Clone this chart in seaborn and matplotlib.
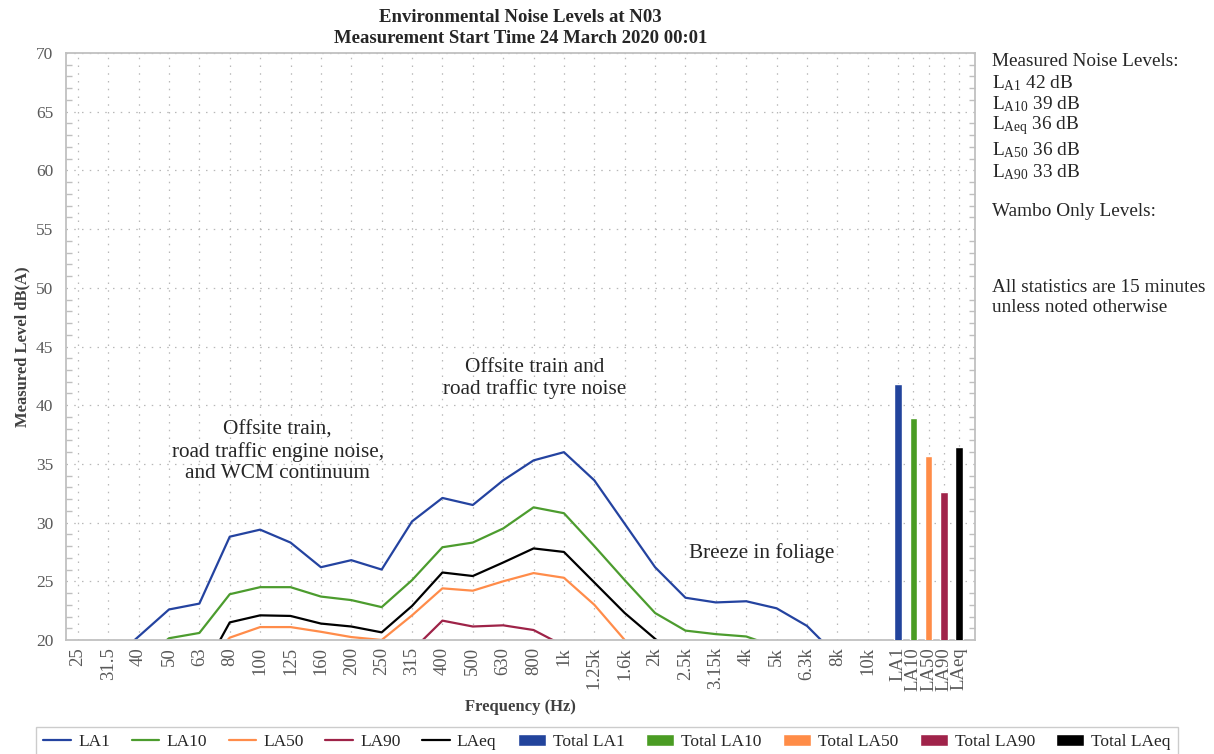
import pandas as pd
import seaborn as sns
import matplotlib.pyplot as plt
from matplotlib.lines import Line2D
from matplotlib.patches import Patch
from matplotlib.ticker import MultipleLocator

# Third-octave band centre frequencies
freq_labels = ["25", "31.5", "40", "50", "63", "80", "100", "125", "160", "200",
               "250", "315", "400", "500", "630", "800", "1k", "1.25k", "1.6k",
               "2k", "2.5k", "3.15k", "4k", "5k", "6.3k", "8k", "10k"]

# Spectra (dB(A)), values below 20 fall off the bottom of the chart
la1 = [16.5, 18.0, 20.3, 22.6, 23.1, 28.8, 29.4, 28.3, 26.2, 26.8, 26.0, 30.1, 32.1, 31.5,
       33.6, 35.3, 36.0, 33.6, 29.9, 26.2, 23.6, 23.2, 23.3, 22.7, 21.2, 18.6, 17.0]
la10 = [14.5, 16.0, 18.0, 20.15, 20.6, 23.9, 24.5, 24.5, 23.7, 23.4, 22.8, 25.1, 27.9, 28.3,
        29.5, 31.3, 30.8, 28.0, 25.1, 22.3, 20.8, 20.5, 20.3, 19.4, 18.0, 16.5, 15.0]
la50 = [13.0, 14.0, 15.0, 16.5, 17.5, 20.2, 21.1, 21.1, 20.7, 20.25, 20.0, 22.1, 24.4, 24.2,
        25.0, 25.7, 25.3, 23.0, 20.0, 17.0, 15.5, 15.0, 14.5, 14.0, 13.5, 13.0, 12.5]
la90 = [11.0, 12.0, 12.5, 13.0, 14.0, 15.5, 16.0, 16.0, 16.0, 16.5, 17.5, 19.1, 21.65, 21.15,
        21.25, 20.85, 19.5, 18.0, 16.0, 14.0, 13.0, 12.5, 12.0, 11.5, 11.0, 10.5, 10.0]
laeq = [14.0, 15.0, 16.0, 16.5, 16.8, 21.5, 22.1, 22.05, 21.4, 21.15, 20.65, 22.9, 25.75, 25.45,
        26.6, 27.8, 27.5, 24.9, 22.3, 20.1, 18.0, 17.5, 17.0, 16.5, 16.0, 15.0, 14.0]

series_names = ["LA1", "LA10", "LA50", "LA90", "LAeq"]
series_vals = [la1, la10, la50, la90, laeq]
line_colors = ["#2443a0", "#4c9c2e", "#ff8c4a", "#9e2348", "#000000"]

# Overall levels
total_names = ["LA1", "LA10", "LA50", "LA90", "LAeq"]
total_vals = [41.8, 38.95, 35.65, 32.6, 36.4]
bar_colors = ["#22449c", "#4a9c23", "#ff8c47", "#a0234a", "#000000"]

freq_pos = list(range(len(freq_labels)))
total_pos = [27, 27.5, 28, 28.5, 29]

rows = []
for name, vals in zip(series_names, series_vals):
    for p, v in zip(freq_pos, vals):
        rows.append({"pos": p, "level": v, "series": name})
df = pd.DataFrame(rows)

sns.set_theme(style="white")
plt.rcParams["font.family"] = ["Liberation Serif", "DejaVu Serif"]
plt.rcParams["mathtext.fontset"] = "custom"
plt.rcParams["mathtext.rm"] = "Liberation Serif"
plt.rcParams["mathtext.it"] = "Liberation Serif:italic"

fig = plt.figure(figsize=(12.14, 7.54), dpi=100)
ax = fig.add_axes([66 / 1214, 1 - 640 / 754, (975 - 66) / 1214, (640 - 53) / 754])

sns.lineplot(data=df, x="pos", y="level", hue="series", palette=dict(zip(series_names, line_colors)),
             linewidth=1.6, ax=ax, legend=False)
ax.bar(total_pos, total_vals, width=0.25, color=bar_colors, zorder=3)

ax.set_xlim(-0.39, 29.53)
ax.set_ylim(20, 70)
ax.set_xticks(freq_pos + total_pos)
ax.set_xticklabels(freq_labels + total_names, rotation=90, fontsize=13.5, color="#595959")
ax.yaxis.set_major_locator(MultipleLocator(5))
ax.yaxis.set_minor_locator(MultipleLocator(1))
ax.tick_params(axis="y", labelsize=12.5, labelcolor="#595959")
ax.tick_params(axis="x", which="major", length=0, pad=5)
ax.tick_params(axis="y", which="major", length=0, pad=9)
ax.tick_params(axis="y", which="minor", direction="in", length=4, color="#bfbfbf",
               left=True, right=True)
ax.grid(False, which="minor")
ax.grid(True, which="major", linestyle=(0, (1.2, 5)), color="#b8b8b8", linewidth=0.9)
for s in ax.spines.values():
    s.set_color("#c0c0c0")
    s.set_linewidth(1.3)

ax.set_xlabel("Frequency (Hz)", fontsize=12, fontweight="bold", color="#404040", labelpad=6)
ax.set_ylabel("Measured Level dB(A)", fontsize=12, fontweight="bold", color="#404040", labelpad=4)
ax.set_title("Environmental Noise Levels at N03\nMeasurement Start Time 24 March 2020 00:01",
             fontsize=13.5, fontweight="bold", pad=7, linespacing=1.3)

# Source annotations
ax.text(15.04, 42.3, "Offsite train and\nroad traffic tyre noise", ha="center", va="center",
        fontsize=15.3, linespacing=1.15)
ax.text(6.58, 36.0, "Offsite train,\nroad traffic engine noise,\nand WCM continuum", ha="center",
        va="center", fontsize=15.3, linespacing=1.15)
ax.text(22.5, 27.4, "Breeze in foliage", ha="center", va="center", fontsize=15.3)

# Summary panel
summary = [
    (61, "Measured Noise Levels:"),
    (83, r"L$_{\mathrm{A1}}$ 42 dB"),
    (104, r"L$_{\mathrm{A10}}$ 39 dB"),
    (126, r"L$_{\mathrm{Aeq}}$ 36 dB"),
    (150, r"L$_{\mathrm{A50}}$ 36 dB"),
    (172, r"L$_{\mathrm{A90}}$ 33 dB"),
    (212, "Wambo Only Levels:"),
    (288, "All statistics are 15 minutes"),
    (307, "unless noted otherwise"),
]
for ypix, txt in summary:
    fig.text(992 / 1214, 1 - ypix / 754, txt, ha="left", va="center", fontsize=13.9)

handles = [Line2D([], [], color=c, lw=1.6) for c in line_colors]
handles += [Patch(facecolor=c) for c in bar_colors]
labels = series_names + ["Total " + n for n in total_names]
fig.legend(handles, labels, loc="upper center", bbox_to_anchor=(0.5, 1 - 727 / 754), ncol=10,
           fontsize=12.5, frameon=True, edgecolor="#c0c0c0", fancybox=False,
           handlelength=1.6, handleheight=0.7, columnspacing=1.25, handletextpad=0.4,
           borderpad=0.4, borderaxespad=0)

fig.savefig("out.png", dpi=100)
